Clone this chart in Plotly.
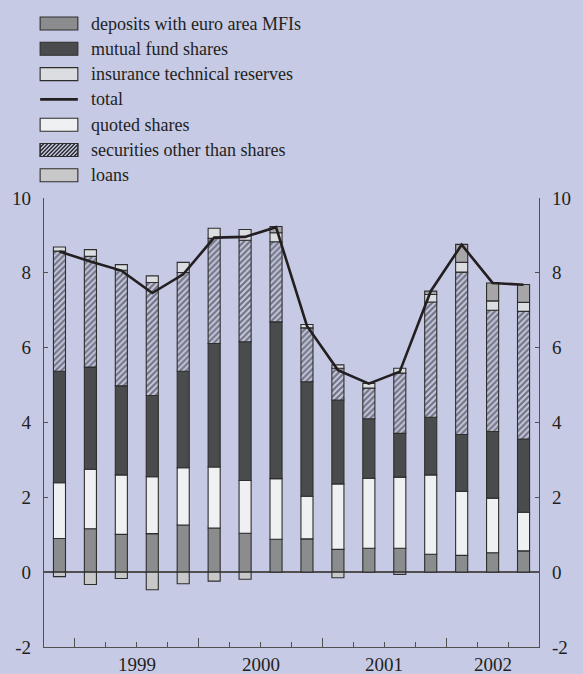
import plotly.graph_objects as go

# ---------------- data (percentage points) ----------------
quarters = ["1998 Q4",
            "1999 Q1", "1999 Q2", "1999 Q3", "1999 Q4",
            "2000 Q1", "2000 Q2", "2000 Q3", "2000 Q4",
            "2001 Q1", "2001 Q2", "2001 Q3", "2001 Q4",
            "2002 Q1", "2002 Q2", "2002 Q3"]
deposits = [0.90, 1.16, 1.01, 1.03, 1.26, 1.18, 1.04, 0.88, 0.89, 0.61, 0.64, 0.64, 0.48, 0.45, 0.52, 0.57]
quoted_shares = [1.49, 1.59, 1.59, 1.52, 1.53, 1.63, 1.41, 1.62, 1.14, 1.75, 1.87, 1.90, 2.12, 1.71, 1.46, 1.03]
mutual_fund = [2.98, 2.73, 2.38, 2.17, 2.58, 3.30, 3.71, 4.19, 3.06, 2.24, 1.59, 1.17, 1.54, 1.52, 1.78, 1.96]
securities = [3.21, 2.96, 3.09, 3.02, 2.64, 2.81, 2.71, 2.14, 1.44, 0.85, 0.82, 1.61, 3.08, 4.34, 3.24, 3.41]
insurance = [0.11, 0.18, 0.15, 0.18, 0.27, 0.27, 0.29, 0.24, 0.09, 0.09, 0.13, 0.13, 0.20, 0.26, 0.25, 0.24]
loans = [-0.12, -0.33, -0.17, -0.47, -0.31, -0.24, -0.19, 0.17, 0.00, -0.15, 0.00, -0.06, 0.09, 0.48, 0.48, 0.48]
total = [8.57, 8.30, 8.06, 7.46, 7.96, 8.94, 8.96, 9.22, 6.58, 5.40, 5.04, 5.36, 7.51, 8.75, 7.73, 7.68]
y_ticks = [-2, 0, 2, 4, 6, 8, 10]
y_tick_labels = ["-2", "0", "2", "4", "6", "8", "10"]

# ---------------- styling ----------------
W, H = 583, 674
ML, MR, MT, MB = 39, 32, 198, 27
PW, PH = W - ML - MR, H - MT - MB
BG = "#c6cae5"
INK = "#231f20"
AX = "#505050"
OUT = "#2e2e2e"
C_DEP = "#8b8c8e"
C_MUT = "#4a4b4d"
C_INS = "#dcdde0"
C_QUO = "#eff0f2"
C_LOAN_NEG = "#c8c8c8"
C_LOAN_POS = "#a6a6a8"
HATCH_BG = "#c9cce6"
HATCH_FG = "#222222"
FONT = "Liberation Serif"

x = list(range(len(quarters)))
years = sorted({q.split()[0] for q in quarters})
label_years = [y for y in years if sum(q.startswith(y) for q in quarters) >= 3]
year_pos = {y: sum(i for i, q in enumerate(quarters) if q.startswith(y)) /
            sum(1 for q in quarters if q.startswith(y)) for y in label_years}

fig = go.Figure()


def bar(vals, name, color, pattern=None):
    m = dict(color=color, line=dict(color=OUT, width=1.1))
    if pattern:
        m["pattern"] = pattern
    fig.add_trace(go.Bar(x=x, y=vals, name=name, marker=m, customdata=quarters,
                         hovertemplate="%{customdata}: %{y}<extra>" + name + "</extra>",
                         showlegend=False))


bar(deposits, "deposits with euro area MFIs", C_DEP)
bar(quoted_shares, "quoted shares", C_QUO)
bar(mutual_fund, "mutual fund shares", C_MUT)
bar(securities, "securities other than shares", HATCH_BG,
    pattern=dict(shape="/", fgcolor=HATCH_FG, bgcolor=HATCH_BG, size=4.2, solidity=0.55))
bar(insurance, "insurance technical reserves", C_INS)
bar(loans, "loans", [C_LOAN_POS if v > 0 else C_LOAN_NEG for v in loans])

fig.add_trace(go.Scatter(x=x, y=total, mode="lines", name="total", yaxis="y2",
                         line=dict(color=INK, width=2.6), showlegend=False,
                         customdata=quarters,
                         hovertemplate="%{customdata}: %{y}<extra>total</extra>"))

# ---------------- manual legend (pixel layout) ----------------
def px(p):
    return (p - ML) / PW


def py(p):
    return (H - MB - p) / PH


legend = [("deposits with euro area MFIs", "box", C_DEP),
          ("mutual fund shares", "box", C_MUT),
          ("insurance technical reserves", "box", C_INS),
          ("total", "line", INK),
          ("quoted shares", "box", C_QUO),
          ("securities other than shares", "hatch", HATCH_BG),
          ("loans", "box", C_LOAN_NEG)]
shapes = []
annotations = []
sx0, sx1, sh = 35, 74, 13
for i, (txt, kind, col) in enumerate(legend):
    cy = 23.5 + i * 25.3
    top, bot = cy - sh / 2, cy + sh / 2
    if kind == "line":
        shapes.append(dict(type="line", xref="paper", yref="paper",
                           x0=px(sx0), x1=px(sx1), y0=py(cy), y1=py(cy),
                           line=dict(color=col, width=2.6)))
    else:
        shapes.append(dict(type="rect", xref="paper", yref="paper",
                           x0=px(sx0), x1=px(sx1), y0=py(bot), y1=py(top),
                           fillcolor=col, line=dict(color=OUT, width=1.1)))
        if kind == "hatch":
            t = sx0 - sh
            while t < sx1:
                xa, ya = t, bot
                xb, yb = t + sh, top
                if xa < sx0:
                    ya = bot - (sx0 - xa)
                    xa = sx0
                if xb > sx1:
                    yb = top + (xb - sx1)
                    xb = sx1
                if xb > xa:
                    shapes.append(dict(type="line", xref="paper", yref="paper",
                                       x0=px(xa), x1=px(xb), y0=py(ya), y1=py(yb),
                                       line=dict(color=HATCH_FG, width=1.3)))
                t += 4.0
            shapes.append(dict(type="rect", xref="paper", yref="paper",
                               x0=px(sx0), x1=px(sx1), y0=py(bot), y1=py(top),
                               line=dict(color=OUT, width=1.1)))
    annotations.append(dict(text=txt, xref="paper", yref="paper", x=px(86), y=py(cy),
                            xanchor="left", yanchor="middle", showarrow=False,
                            font=dict(family=FONT, size=18, color=INK)))

for yr in label_years:
    annotations.append(dict(text=yr, xref="x", yref="paper", x=year_pos[yr], y=py(664),
                            xanchor="center", yanchor="middle", showarrow=False,
                            font=dict(family=FONT, size=19, color=INK)))

yaxis_common = dict(range=[-2, 10], tickmode="array", tickvals=y_ticks, ticktext=y_tick_labels,
                    ticks="inside", ticklen=4, tickcolor=AX, tickwidth=1,
                    showline=True, linecolor=AX, linewidth=1.2, showgrid=False,
                    tickfont=dict(family=FONT, size=19, color=INK), ticklabelstandoff=8,
                    fixedrange=True)

fig.update_layout(
    width=W, height=H,
    margin=dict(l=ML, r=MR, t=MT, b=MB, pad=0),
    paper_bgcolor=BG, plot_bgcolor=BG,
    barmode="relative", bargap=0.61,
    showlegend=False,
    font=dict(family=FONT, color=INK),
    xaxis=dict(range=[-0.5, len(quarters) - 0.5], tickmode="linear", tick0=0.5, dtick=4,
               ticks="inside", ticklen=9, tickcolor=AX, tickwidth=1,
               showticklabels=False, showline=True, linecolor=AX, linewidth=1.2,
               showgrid=False, zeroline=False, fixedrange=True,
               minor=dict(ticks="inside", ticklen=5, tick0=0.5, dtick=1,
                          tickcolor=AX, tickwidth=1, showgrid=False)),
    yaxis=dict(**yaxis_common, zeroline=True, zerolinecolor=AX, zerolinewidth=1.5, side="left"),
    yaxis2=dict(**yaxis_common, zeroline=False, overlaying="y", side="right", anchor="x"),
    shapes=shapes,
    annotations=annotations,
)

fig.write_html("out.html", config={"displayModeBar": False},
               post_script="document.body.style.margin='0';")
